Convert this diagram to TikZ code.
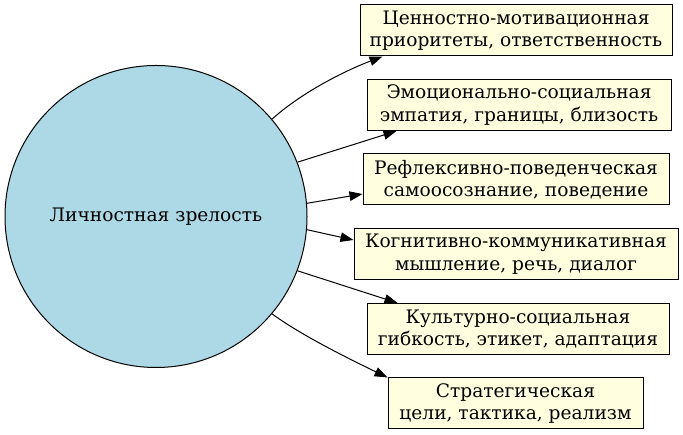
\documentclass[tikz,border=0pt]{standalone}
\usepackage{fontspec}
\setmainfont{DejaVu Serif}
\usetikzlibrary{arrows.meta}
\definecolor{lblue}{HTML}{ADD8E6}
\definecolor{lyellow}{HTML}{FFFFE0}
\begin{document}
\begin{tikzpicture}[x=1pt,y=1pt,
  every node/.style={font=\fontsize{18.6pt}{22.4pt}\selectfont},
  hub/.style={circle,draw=black,line width=1pt,fill=lblue,minimum size=302pt,inner sep=0pt},
  facet/.style={rectangle,draw=black,line width=1pt,fill=lyellow,minimum height=51pt,inner xsep=0pt,inner ysep=0pt,align=center},
  link/.style={line width=1pt,-{Triangle[length=13pt,width=9.5pt]}}]
\useasboundingbox (0,0) rectangle (683,435);
\node[hub] (c) at (156,218.5) {Личностная зрелость};
\node[facet,minimum width=312pt] (b1) at (516,404.5) {Ценностно-мотивационная\\приоритеты, ответственность};
\node[facet,minimum width=304pt] (b2) at (519,330) {Эмоционально-социальная\\эмпатия, границы, близость};
\node[facet,minimum width=306pt] (b3) at (516,255.5) {Рефлексивно-поведенческая\\самоосознание, поведение};
\node[facet,minimum width=324pt] (b4) at (516,181) {Когнитивно-коммуникативная\\мышление, речь, диалог};
\node[facet,minimum width=302pt] (b5) at (518,106) {Культурно-социальная\\гибкость, этикет, адаптация};
\node[facet,minimum width=255pt] (b6) at (515.5,31.5) {Стратегическая\\цели, тактика, реализм};
\draw[link] (c.40.6) .. controls +(30,27) and +(-37,-14) .. ([xshift=23pt]b1.south west);
\draw[link] (c.21.3) -- ([xshift=30pt]b2.south west);
\draw[link] (c.5.5) -- ([yshift=-14.5pt]b3.west);
\draw[link] (c.-5.9) -- ([yshift=14pt]b4.west);
\draw[link] (c.-21.7) -- ([xshift=31pt]b5.north west);
\draw[link] (c.-40.9) .. controls +(30,-22) and +(-35,17) .. (b6.north west);
\end{tikzpicture}
\end{document}
